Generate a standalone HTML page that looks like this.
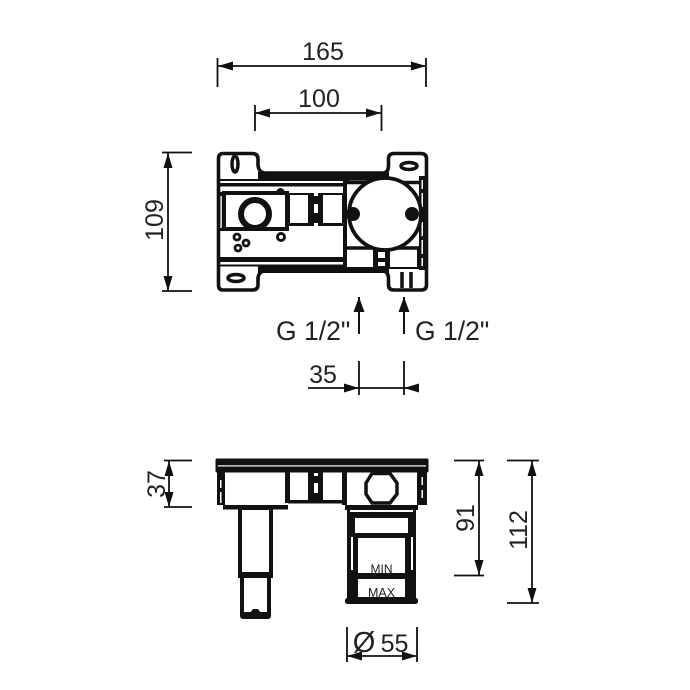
<!DOCTYPE html>
<html><head><meta charset="utf-8"><style>
html,body{margin:0;padding:0;background:#fff}
svg{display:block}
text{font-family:"Liberation Sans",sans-serif;fill:#222}
</style></head><body>
<svg width="690" height="690" viewBox="0 0 690 690" xmlns="http://www.w3.org/2000/svg">
<defs>
<marker id="a" markerWidth="15" markerHeight="9" refX="15" refY="4.500" orient="auto-start-reverse" markerUnits="userSpaceOnUse"><path d="M0,0 L15,4.500 L0,9Z" fill="#111"/></marker>
<marker id="g" markerWidth="15" markerHeight="11" refX="15" refY="5.500" orient="auto" markerUnits="userSpaceOnUse"><path d="M0,0 L15,5.500 L0,11Z" fill="#111"/></marker>
</defs>
<!-- dims -->
<g stroke="#111" stroke-width="1.800" fill="none">
<path d="M217.500,58V87M426,58V87M255,105V131M381.500,105V131M162,152.500H192M162,291H192M359,361V395M404,361V395M164,460.500H192M164,507H192M454,460.500H484M454,575.500H484M507,460.500H539M507,603H539M347,627V662M417,627V662"/>
<path d="M218,66H426" marker-start="url(#a)" marker-end="url(#a)"/>
<path d="M255,113H381" marker-start="url(#a)" marker-end="url(#a)"/>
<path d="M168,153V291" marker-start="url(#a)" marker-end="url(#a)"/>
<path d="M169,461V507" marker-start="url(#a)" marker-end="url(#a)"/>
<path d="M479,461V575" marker-start="url(#a)" marker-end="url(#a)"/>
<path d="M532,461V603" marker-start="url(#a)" marker-end="url(#a)"/>
<path d="M347,656H417" marker-start="url(#a)" marker-end="url(#a)"/>
<path d="M308,388H359" marker-end="url(#a)"/>
<path d="M359,388H404"/>
<path d="M417,388H404" marker-end="url(#a)"/>
<path d="M359,334V297" stroke-width="2" marker-end="url(#g)"/>
<path d="M404,334V297" stroke-width="2" marker-end="url(#g)"/>
</g>
<g font-size="25" text-anchor="middle">
<text x="323" y="60">165</text>
<text x="319" y="107">100</text>
<text x="323" y="383">35</text>
<text x="394.500" y="652">55</text>
<text x="364" y="652" font-size="29">Ø</text>
<text transform="translate(163,220) rotate(-90)">109</text>
<text transform="translate(165,484) rotate(-90)">37</text>
<text transform="translate(474,518) rotate(-90)">91</text>
<text transform="translate(527,530) rotate(-90)">112</text>
<text x="276" y="340" text-anchor="start" font-size="26.500">G 1/2"</text>
<text x="415" y="340" text-anchor="start" font-size="26.500">G 1/2"</text>
</g>
<!-- top view -->
<g fill="#111">
<rect x="258" y="172" width="131" height="8.500"/>
<rect x="219" y="179" width="130" height="2"/>
<rect x="219" y="183" width="126" height="3.500"/>
<rect x="219" y="257" width="126" height="5"/>
<rect x="219" y="264.500" width="170" height="2"/>
<rect x="258" y="265" width="131" height="8"/>
<rect x="217" y="192" width="8" height="39"/>
<rect x="287" y="193" width="58" height="33"/>
<rect x="343" y="181" width="4" height="88"/>
<rect x="345" y="247" width="75" height="22"/>
<rect x="419" y="176" width="9" height="94"/>
</g>
<g fill="#fff">
<rect x="220.300" y="196" width="1.500" height="32"/>
<rect x="290" y="195" width="18" height="28"/>
<rect x="323" y="195" width="19" height="28"/>
<rect x="314" y="204" width="4" height="9"/>
<rect x="314" y="192" width="4" height="4"/>
<rect x="314" y="223" width="4" height="4"/>
<rect x="347" y="249" width="26" height="18"/>
<rect x="390" y="249" width="27" height="18"/>
<rect x="378" y="252" width="7" height="6"/>
<rect x="378" y="262" width="7" height="4"/>
<rect x="421.500" y="180" width="1.500" height="9"/>
<rect x="421.500" y="193" width="1.500" height="14"/>
<rect x="421.500" y="222" width="1.500" height="14"/>
<rect x="421.500" y="240" width="1.500" height="14"/>
<rect x="421.500" y="258" width="1.500" height="8"/>
</g>
<g fill="none" stroke="#111">
<path stroke-width="3.600" d="M223,153.500H252Q258,153.500 258,159V165Q259,173 265,173H383Q388.500,173 388.500,165V159Q388.500,153.500 394,153.500H421Q426.500,153.500 426.500,159V285Q426.500,290 421,290H394Q388.500,290 388.500,285V278Q388,271 383,271H265Q259,271 258,278V285Q258,290 252,290H223Q218.500,290 218.500,285V159Q218.500,153.500 223,153.500Z"/>
<rect x="224" y="193" width="63" height="36" stroke-width="4"/>
<circle cx="255" cy="214" r="14" stroke-width="6"/>
<path stroke-width="3.500" d="M345,182.500H419M345,248H419"/>
<circle cx="385" cy="214" r="36" stroke-width="3.800" fill="#fff"/>
<circle cx="281" cy="237" r="3.500" stroke-width="3"/>
<circle cx="237" cy="237" r="3" stroke-width="2.800"/>
<circle cx="246" cy="243" r="3" stroke-width="2.800"/>
<circle cx="238" cy="248" r="3" stroke-width="2.800"/>
<ellipse cx="235" cy="164" rx="3" ry="8" stroke-width="3.500"/>
<ellipse cx="409" cy="166" rx="8" ry="3.500" stroke-width="3.500"/>
<ellipse cx="236" cy="278" rx="8" ry="3.500" stroke-width="3.500"/>
<path stroke-width="3.500" d="M402,272V288M411,272V288"/>
</g>
<path d="M276,193a4.500,5 0 0 1 9,0Z" fill="#111"/>
<circle cx="353" cy="214" r="7" fill="#111"/>
<circle cx="412" cy="214" r="7" fill="#111"/>
<!-- front view -->
<g fill="#111">
<rect x="215.500" y="458.500" width="213" height="14" rx="1.500"/>
<rect x="217" y="472" width="8" height="33"/>
<rect x="223" y="505" width="65" height="4.500"/>
<rect x="285" y="472" width="5" height="31"/>
<rect x="288" y="500" width="59" height="3.500"/>
<rect x="308" y="472" width="15" height="28"/>
<rect x="342" y="472" width="5" height="33"/>
<rect x="345" y="505" width="73" height="5"/>
<rect x="417" y="472" width="10" height="33"/>
<rect x="238" y="509" width="35" height="69"/>
<rect x="240" y="578" width="31" height="37"/>
<rect x="240" y="611" width="31" height="8" rx="3"/>
<rect x="347" y="510" width="69" height="90"/>
<rect x="345" y="598" width="73" height="6" rx="2.500"/>
</g>
<g fill="#fff">
<rect x="218" y="465.300" width="208" height="1.200"/>
<rect x="220" y="480" width="1.500" height="8"/>
<rect x="220" y="492" width="1.500" height="11"/>
<rect x="421.500" y="477" width="1.500" height="8"/>
<rect x="421.500" y="490" width="1.500" height="8"/>
<rect x="314" y="473" width="4" height="3"/>
<rect x="314" y="483" width="4" height="10"/>
<rect x="242" y="510" width="27" height="62"/>
<rect x="244" y="578" width="23" height="34"/>
<rect x="350" y="510" width="63" height="2"/>
<rect x="355" y="518" width="53" height="15"/>
<rect x="358" y="538" width="47" height="35"/>
<rect x="358" y="579" width="47" height="18"/>
<rect x="351" y="537" width="2" height="33"/>
<rect x="411" y="537" width="2" height="33"/>
</g>
<path d="M366,483L372,473.500H390L397,483V494L390,503H372L366,494Z" fill="none" stroke="#111" stroke-width="3.500"/>
<path d="M250,613L253,609H258L261,613Z" fill="#111"/>
<text x="381.500" y="573" font-size="12" text-anchor="middle">MIN</text>
<text x="381.500" y="597" font-size="12.500" text-anchor="middle">MAX</text>
</svg>
</body></html>
